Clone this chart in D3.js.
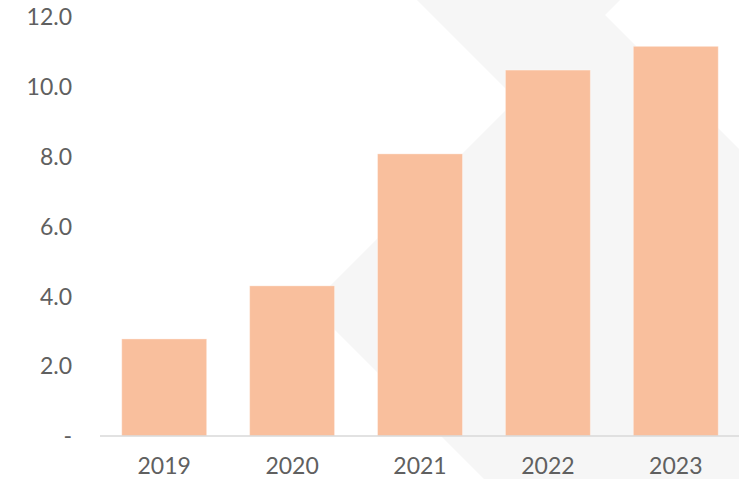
<!DOCTYPE html>
<html lang="en">
  <head>
    <meta charset="utf-8"/>
    <title>Bar chart 2019-2023</title>
    <script src="https://cdn.jsdelivr.net/npm/d3@7"></script>
    <style>
      body { margin: 0; background: #fff; }
      svg text { font-family: Lato, "Open Sans", sans-serif; fill: #606060; }
    </style>
  </head>
  <body>
    <div id="chart"></div>
    <script>
     let years = ["2019", "2020", "2021", "2022", "2023"],
         values = [2.78, 4.30, 8.08, 10.48, 11.16],
         yTicks = [0, 2, 4, 6, 8, 10, 12];

     let svgWidth = 739,
         svgHeight = 479;

     let svg = d3.select("#chart")
                 .append("svg")
                 .attr("width", svgWidth)
                 .attr("height", svgHeight);

     // faint logo watermark behind the chart
     let mark = [[417, 0], [620, 0], [605, 15], [739, 149], [739, 479],
                 [484, 479], [310.5, 305.5], [516.5, 99.5]];
     svg.append("polygon")
        .attr("points", mark.map(p => p.join(",")).join(" "))
        .attr("fill", "#f6f6f6");

     let xScale = d3.scaleBand()
                    .domain(years)
                    .range([100, 740])
                    .paddingInner(0.336)
                    .paddingOuter(0.17);

     let yScale = d3.scaleLinear()
                    .domain([0, 12])
                    .range([436, 17]);

     svg.append("g")
        .selectAll("rect")
        .data(values)
        .join("rect")
        .attr("x", (d, i) => xScale(years[i]))
        .attr("y", d => yScale(d))
        .attr("width", xScale.bandwidth())
        .attr("height", d => yScale(0) - yScale(d))
        .attr("fill", "#f9bf9d")
        .attr("stroke", "#fff")
        .attr("stroke-opacity", 0.35)
        .attr("stroke-width", 1);

     let yAxis = d3.axisLeft(yScale)
                   .tickValues(yTicks)
                   .tickSize(0)
                   .tickPadding(0)
                   .tickFormat(d => d === 0 ? "-" : d3.format(".1f")(d));

     let gy = svg.append("g")
                 .attr("transform", "translate(72, 0)")
                 .call(yAxis);
     gy.select(".domain").remove();
     gy.selectAll("text")
       .attr("font-size", 23)
       .attr("dy", "0.34em")
       .style("font-family", "Lato, sans-serif");

     let xAxis = d3.axisBottom(xScale)
                   .tickSize(0)
                   .tickPadding(0);

     let gx = svg.append("g")
                 .attr("transform", "translate(0, 436)")
                 .call(xAxis);
     gx.select(".domain")
       .attr("d", "M100,0H739")
       .attr("stroke", "#d9d9d9")
       .attr("stroke-width", 1.5);
     gx.selectAll("text")
       .attr("font-size", 23)
       .attr("y", 38)
       .attr("dy", 0)
       .style("font-family", "Lato, sans-serif");
    </script>
  </body>
</html>
